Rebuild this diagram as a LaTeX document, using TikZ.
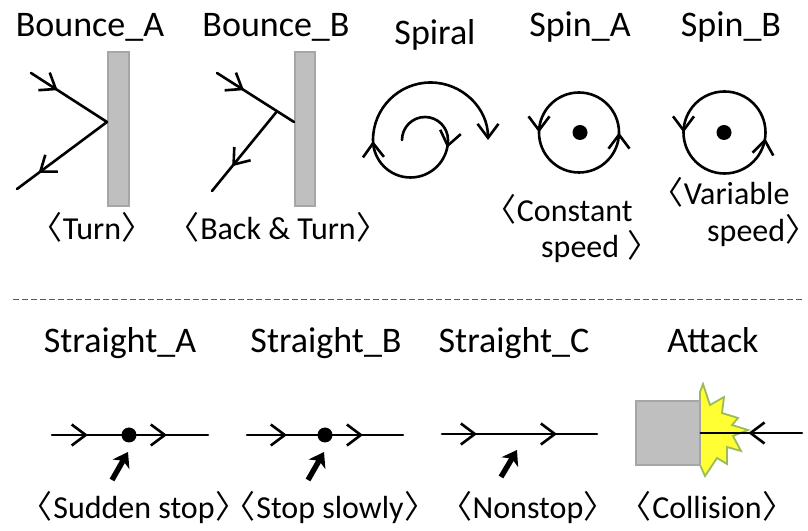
\documentclass[tikz,border=0pt]{standalone}
\usepackage{fontspec}
\setmainfont{Carlito}
\newfontfamily\cjk{Noto Sans CJK JP}
\usetikzlibrary{arrows.meta,calc,decorations.markings}
\definecolor{mvwall}{HTML}{BFBFBF}
\definecolor{mvedge}{HTML}{A6A6A6}
\definecolor{mvburst}{HTML}{FFFF33}
\definecolor{mvburstedge}{HTML}{9BBB59}
\definecolor{mvrule}{HTML}{595959}

% thin angle brackets around the captions
\newcommand\lbr{{\cjk\kern-.5em〈\kern.02em}}
\newcommand\rbr{{\cjk\kern.02em〉\kern-.5em}}

\tikzset{
  every node/.style={inner sep=0pt},
  title/.style={font=\fontsize{36}{43}\selectfont,anchor=base},
  caption/.style={font=\fontsize{32}{38}\selectfont,anchor=base},
  move/.style={line width=2.6pt,line cap=round},
  chev/.style={postaction={decorate,decoration={markings,
      mark=at position #1 with {\arrow{Straight Barb[length=14pt,width=21pt]}}}}},
  wall/.style={draw=mvedge,fill=mvwall,line width=1.5pt},
  push/.style={line width=5.4pt,-{Stealth[length=14pt,width=19pt,inset=4pt]}},
  spot/.style={circle,fill=black,minimum size=15pt}
}

\begin{document}
\begin{tikzpicture}[x=1pt,y=1pt]
  \useasboundingbox (0,0) rectangle (808,530);

  % titles
  \node[title] (bounceA) at (90,493) {Bounce\_A};
  \node[title] (bounceB) at (276,493) {Bounce\_B};
  \node[title] (spiral) at (435,485) {Spiral};
  \node[title] (spinA) at (580,493) {Spin\_A};
  \node[title] (spinB) at (731,493) {Spin\_B};
  \node[title] (straightA) at (120,177) {Straight\_A};
  \node[title] (straightB) at (326,177) {Straight\_B};
  \node[title] (straightC) at (514,177) {Straight\_C};
  \node[title] (attack) at (713,177) {Attack};

  % bounce off the wall
  \draw[wall] (108,324) rectangle (129,478);
  \coordinate (inA) at (31,457);
  \coordinate (hitA) at (107,408);
  \coordinate (outA) at (17,341);
  \draw[move,chev=0.35] (inA) -- (hitA);
  \draw[move,chev=0.76] (hitA) -- (outA);

  \draw[wall] (295,324) rectangle (315,478);
  \coordinate (inB) at (217,457);
  \coordinate (hitB) at (294,408);
  \coordinate (turnB) at ($(inB)!0.78!(hitB)$);
  \coordinate (outB) at (212,339);
  \draw[move,chev=0.35] (inB) -- (hitB);
  \draw[move,chev=0.69] (turnB) -- (outB);

  % spiral: three half circles
  \draw[move,chev=0.216,chev=0.51,-{Straight Barb[length=14pt,width=21pt]}]
    (402,390) arc[start angle=180,end angle=0,radius=23]
    arc[start angle=0,end angle=-180,radius=37.5]
    arc[start angle=180,end angle=0,radius=57.5];

  % spins
  \draw[move,chev=0.25,chev=0.75] (579,357.5) arc[start angle=-90,end angle=270,radius=40];
  \node[spot] (hubA) at (580,397.5) {};
  \draw[move,chev=0.228,chev=0.75] (724.5,356.5) arc[start angle=-90,end angle=270,radius=41];
  \node[spot] (hubB) at (724,397.5) {};

  \node[caption] (turnLab) at (92,290) {\lbr Turn\rbr};
  \node[caption] (backLab) at (278,290) {\lbr Back \& Turn\rbr};
  \node[caption,anchor=base west] (constLab) at (500,308) {\lbr Constant};
  \node[caption,anchor=base west] (constLabB) at (541,272) {speed \rbr};
  \node[caption,anchor=base west] (varLab) at (667,325) {\lbr Variable};
  \node[caption,anchor=base west] (varLabB) at (707,288) {speed\rbr};

  \draw[mvrule,line width=1pt,dash pattern=on 6pt off 3pt] (13,230) -- (803,230);

  % straight movers
  \coordinate (sA0) at (52,95);
  \coordinate (sA1) at (208,95);
  \draw[move,chev=0.23,chev=0.737] (sA0) -- (sA1);
  \node[spot] (stopA) at (129,95) {};
  \draw[push] ($(stopA)+(-17,-45)$) -- ($(stopA)+(-1,-17)$);

  \coordinate (sB0) at (247,95);
  \coordinate (sB1) at (403,95);
  \draw[move,chev=0.256,chev=0.744] (sB0) -- (sB1);
  \node[spot] (stopB) at (325,95) {};
  \draw[push] ($(stopB)+(-17,-45)$) -- ($(stopB)+(-1,-17)$);

  \coordinate (sC0) at (442,96);
  \coordinate (sC1) at (597,96);
  \draw[move,chev=0.226,chev=0.742] (sC0) -- (sC1);
  \draw[push] (501,53) -- (517,80);

  % attack: burst behind the block
  \filldraw[fill=mvburst,draw=mvburstedge,line width=1.8pt,line join=miter]
    (700,138) -- (703,146) -- (710,125) -- (724,133) -- (722,117) -- (738,112)
    -- (732,105) -- (748,100) -- (733,94) -- (741,79) -- (727,83) -- (727,66)
    -- (717,72) -- (705,54) -- (700,65) -- cycle;
  \node[wall,minimum width=64pt,minimum height=64pt] (block) at (668,97) {};
  \coordinate (atkIn) at (802,97);
  \draw[move,chev=0.53] (atkIn) -- (block.east);

  \node[caption] (suddenLab) at (134,12) {\lbr Sudden stop\rbr};
  \node[caption] (slowLab) at (330,12) {\lbr Stop slowly\rbr};
  \node[caption] (nonstopLab) at (528,12) {\lbr Nonstop\rbr};
  \node[caption] (collisionLab) at (707,12) {\lbr Collision\rbr};
\end{tikzpicture}
\end{document}
